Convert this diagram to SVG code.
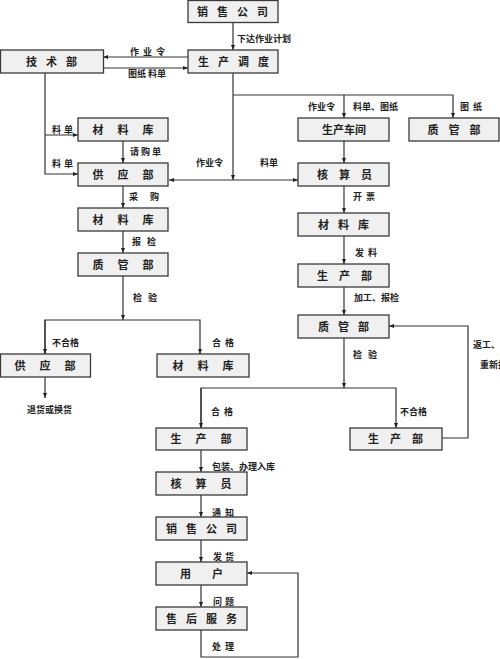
<svg xmlns="http://www.w3.org/2000/svg" width="500" height="659" viewBox="0 0 500 659">
<style>
.box{fill:#f0f0f0;stroke:#3a3a3a;stroke-width:1.3}
.bt{font-family:"Noto Sans CJK SC","Noto Sans CJK TC",sans-serif;font-size:11px;font-weight:bold;fill:#222;text-anchor:middle}
.lb{font-family:"Noto Sans CJK SC","Noto Sans CJK TC",sans-serif;font-size:9px;font-weight:bold;fill:#222}
.ln{fill:none;stroke:#333;stroke-width:1.2}
</style>
<defs>
<marker id="ah" viewBox="0 0 10 10" refX="10" refY="5" markerWidth="5" markerHeight="5" orient="auto" markerUnits="userSpaceOnUse">
<path d="M0,1 L10,5 L0,9 Z" fill="#222"/>
</marker>
</defs>
<rect width="500" height="659" fill="#fff"/>
<g id="connectors">
<path class="ln" d="M233,22 V50" marker-end="url(#ah)"/>
<path class="ln" d="M188,57 H103" marker-end="url(#ah)"/>
<path class="ln" d="M103,68 H188" marker-end="url(#ah)"/>
<path class="ln" d="M45,73 V174 H78" marker-end="url(#ah)"/>
<path class="ln" d="M45,135 H78" marker-end="url(#ah)"/>
<path class="ln" d="M233,73 V180" marker-end="url(#ah)"/>
<path class="ln" d="M233,95 H453 V118" marker-end="url(#ah)"/>
<path class="ln" d="M344,95 V118" marker-end="url(#ah)"/>
<path class="ln" d="M233,180 H169" marker-end="url(#ah)"/>
<path class="ln" d="M233,180 H298" marker-end="url(#ah)"/>
<path class="ln" d="M123,141 V163" marker-end="url(#ah)"/>
<path class="ln" d="M123,186 V208" marker-end="url(#ah)"/>
<path class="ln" d="M123,231 V253" marker-end="url(#ah)"/>
<path class="ln" d="M123,276 V320" marker-end="url(#ah)"/>
<path class="ln" d="M45,354 V320 H200 V354" marker-end="url(#ah)"/>
<path class="ln" d="M45,320 V354" marker-end="url(#ah)"/>
<path class="ln" d="M45,377 V398" marker-end="url(#ah)"/>
<path class="ln" d="M344,141 V163" marker-end="url(#ah)"/>
<path class="ln" d="M344,186 V213" marker-end="url(#ah)"/>
<path class="ln" d="M344,236 V264" marker-end="url(#ah)"/>
<path class="ln" d="M344,287 V315" marker-end="url(#ah)"/>
<path class="ln" d="M344,338 V388" marker-end="url(#ah)"/>
<path class="ln" d="M201,428 V388 H396 V428" marker-end="url(#ah)"/>
<path class="ln" d="M201,388 V428" marker-end="url(#ah)"/>
<path class="ln" d="M442,438 H468 V326 H389" marker-end="url(#ah)"/>
<path class="ln" d="M201,450 V472" marker-end="url(#ah)"/>
<path class="ln" d="M201,495 V517" marker-end="url(#ah)"/>
<path class="ln" d="M201,540 V562" marker-end="url(#ah)"/>
<path class="ln" d="M201,585 V607" marker-end="url(#ah)"/>
<path class="ln" d="M201,630 V657 H298 V573 H247" marker-end="url(#ah)"/>
</g>
<g id="labels">
<text class="lb" x="237" y="42">下达作业计划</text>
<text class="lb" x="130" y="55" letter-spacing="4">作业令</text>
<text class="lb" x="128" y="77">图纸 料单</text>
<text class="lb" x="308" y="110">作业令</text>
<text class="lb" x="353" y="110">料单、图纸</text>
<text class="lb" x="460" y="110" letter-spacing="4">图纸</text>
<text class="lb" x="52" y="133" letter-spacing="3">料单</text>
<text class="lb" x="52" y="167" letter-spacing="3">料单</text>
<text class="lb" x="130" y="155" letter-spacing="2">请购单</text>
<text class="lb" x="196" y="166">作业令</text>
<text class="lb" x="260" y="166">料单</text>
<text class="lb" x="129" y="200" letter-spacing="12">采购</text>
<text class="lb" x="353" y="200" letter-spacing="4">开票</text>
<text class="lb" x="132" y="245" letter-spacing="6">报检</text>
<text class="lb" x="355" y="256" letter-spacing="4">发料</text>
<text class="lb" x="133" y="301" letter-spacing="6">检验</text>
<text class="lb" x="354" y="301">加工、报检</text>
<text class="lb" x="52" y="346">不合格</text>
<text class="lb" x="212" y="346" letter-spacing="4">合格</text>
<text class="lb" x="473" y="348">返工、</text>
<text class="lb" x="480" y="368">重新报检</text>
<text class="lb" x="353" y="358" letter-spacing="6">检验</text>
<text class="lb" x="27" y="413">退货或换货</text>
<text class="lb" x="211" y="415" letter-spacing="4">合格</text>
<text class="lb" x="400" y="415">不合格</text>
<text class="lb" x="212" y="470">包装、办理入库</text>
<text class="lb" x="212" y="516" letter-spacing="4">通知</text>
<text class="lb" x="213" y="560" letter-spacing="3">发货</text>
<text class="lb" x="213" y="605" letter-spacing="3">问题</text>
<text class="lb" x="212" y="650" letter-spacing="4">处理</text>
</g>
<g id="n-xsgs1"><rect class="box" x="188" y="0.5" width="90" height="22"/><text class="bt" x="237" y="16" letter-spacing="9">销售公司</text></g>
<g id="n-jsb"><rect class="box" x="0.5" y="50" width="103" height="23"/><text class="bt" x="56" y="66" letter-spacing="9">技术部</text></g>
<g id="n-scdd"><rect class="box" x="188" y="50" width="90" height="23"/><text class="bt" x="238" y="66" letter-spacing="9">生产调度</text></g>
<g id="n-clk1"><rect class="box" x="78" y="118" width="90" height="23"/><text class="bt" x="130" y="134" letter-spacing="14">材料库</text></g>
<g id="n-scjj"><rect class="box" x="298" y="118" width="91" height="23"/><text class="bt" x="344" y="134">生产车间</text></g>
<g id="n-zgb1"><rect class="box" x="409" y="118" width="90" height="23"/><text class="bt" x="459" y="134" letter-spacing="10">质管部</text></g>
<g id="n-gyb1"><rect class="box" x="78" y="163" width="90" height="23"/><text class="bt" x="130" y="179" letter-spacing="14">供应部</text></g>
<g id="n-hsy1"><rect class="box" x="298" y="163" width="91" height="23"/><text class="bt" x="350" y="179" letter-spacing="11">核算员</text></g>
<g id="n-clk2"><rect class="box" x="78" y="208" width="90" height="23"/><text class="bt" x="130" y="224" letter-spacing="14">材料库</text></g>
<g id="n-clk3"><rect class="box" x="298" y="213" width="91" height="23"/><text class="bt" x="348" y="229" letter-spacing="9">材料库</text></g>
<g id="n-zgb2"><rect class="box" x="78" y="253" width="90" height="23"/><text class="bt" x="130" y="269" letter-spacing="14">质管部</text></g>
<g id="n-scb1"><rect class="box" x="298" y="264" width="91" height="23"/><text class="bt" x="350" y="280" letter-spacing="11">生产部</text></g>
<g id="n-zgb3"><rect class="box" x="298" y="315" width="91" height="23"/><text class="bt" x="348" y="331" letter-spacing="9">质管部</text></g>
<g id="n-gyb2"><rect class="box" x="0.5" y="354" width="90" height="23"/><text class="bt" x="52" y="370" letter-spacing="14">供应部</text></g>
<g id="n-clk4"><rect class="box" x="157" y="354" width="92" height="23"/><text class="bt" x="210" y="370" letter-spacing="14">材料库</text></g>
<g id="n-scb2"><rect class="box" x="156" y="428" width="91" height="22"/><text class="bt" x="208" y="443" letter-spacing="14">生产部</text></g>
<g id="n-scb3"><rect class="box" x="350" y="428" width="92" height="22"/><text class="bt" x="401" y="443" letter-spacing="11">生产部</text></g>
<g id="n-hsy2"><rect class="box" x="156" y="472" width="91" height="23"/><text class="bt" x="208" y="488" letter-spacing="14">核算员</text></g>
<g id="n-xsgs2"><rect class="box" x="156" y="517" width="91" height="23"/><text class="bt" x="206" y="533" letter-spacing="9">销售公司</text></g>
<g id="n-yh"><rect class="box" x="156" y="562" width="91" height="23"/><text class="bt" x="212" y="578" letter-spacing="21">用户</text></g>
<g id="n-shfw"><rect class="box" x="156" y="607" width="91" height="23"/><text class="bt" x="206" y="623" letter-spacing="9">售后服务</text></g>
</svg>
